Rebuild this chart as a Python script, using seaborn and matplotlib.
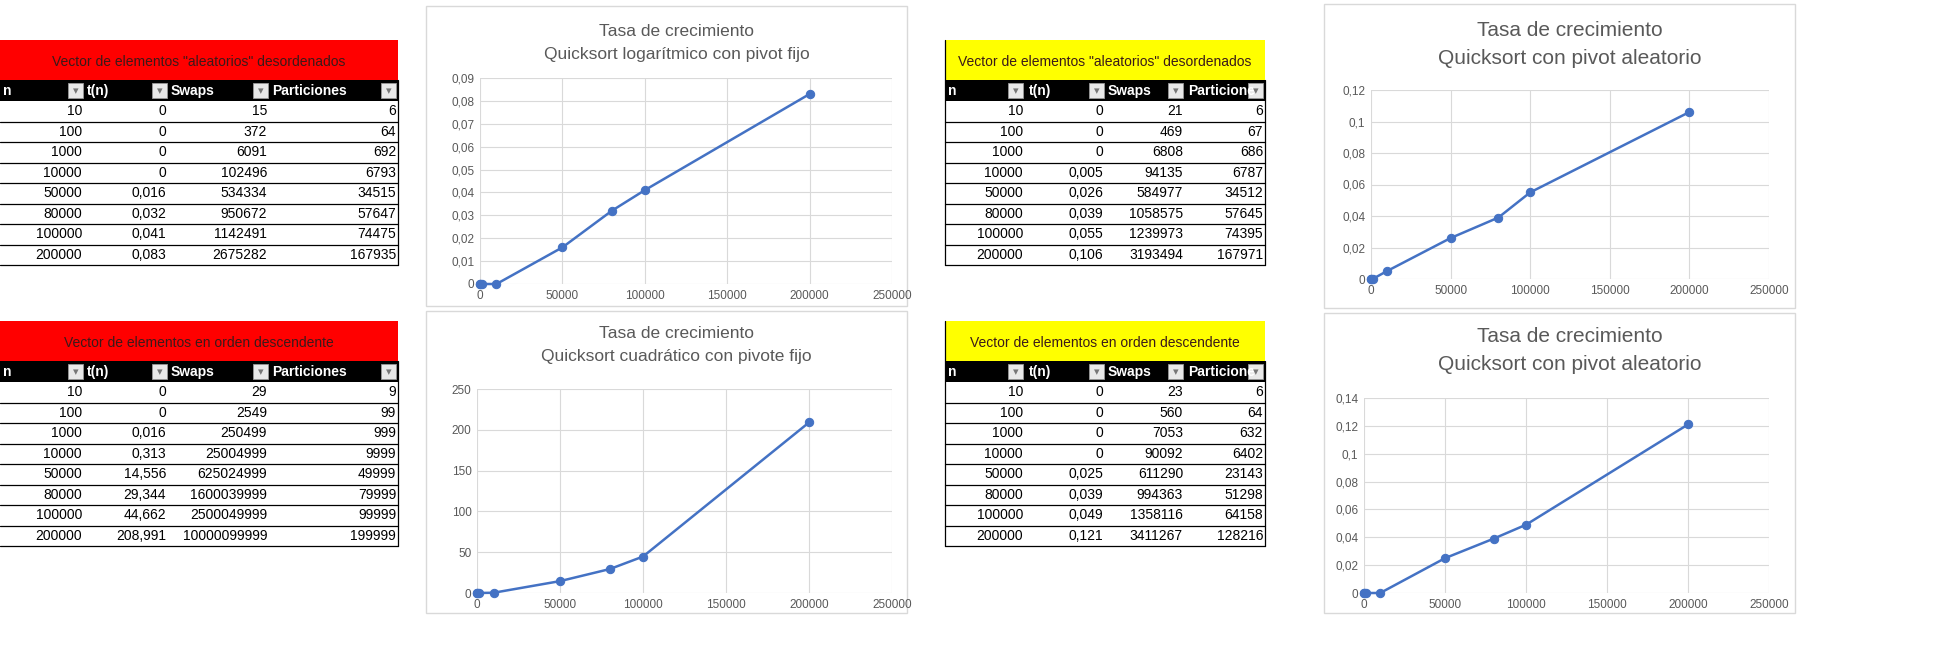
import matplotlib
matplotlib.use("Agg")
import matplotlib.pyplot as plt
import seaborn as sns
import pandas as pd
from matplotlib.patches import Rectangle
from matplotlib.ticker import FuncFormatter

sns.set_theme(style="whitegrid")
plt.rcParams['font.family'] = ['Liberation Sans', 'DejaVu Sans']

n_vals = [10, 100, 1000, 10000, 50000, 80000, 100000, 200000]

t1 = [0, 0, 0, 0, 0.016, 0.032, 0.041, 0.083]
sw1 = [15, 372, 6091, 102496, 534334, 950672, 1142491, 2675282]
pa1 = [6, 64, 692, 6793, 34515, 57647, 74475, 167935]
t1_lbl = ["0", "0", "0", "0", "0,016", "0,032", "0,041", "0,083"]

t2 = [0, 0, 0.016, 0.313, 14.556, 29.344, 44.662, 208.991]
sw2 = [29, 2549, 250499, 25004999, 625024999, 1600039999, 2500049999, 10000099999]
pa2 = [9, 99, 999, 9999, 49999, 79999, 99999, 199999]
t2_lbl = ["0", "0", "0,016", "0,313", "14,556", "29,344", "44,662", "208,991"]

t3 = [0, 0, 0, 0.005, 0.026, 0.039, 0.055, 0.106]
sw3 = [21, 469, 6808, 94135, 584977, 1058575, 1239973, 3193494]
pa3 = [6, 67, 686, 6787, 34512, 57645, 74395, 167971]
t3_lbl = ["0", "0", "0", "0,005", "0,026", "0,039", "0,055", "0,106"]

t4 = [0, 0, 0, 0, 0.025, 0.039, 0.049, 0.121]
sw4 = [23, 560, 7053, 90092, 611290, 994363, 1358116, 3411267]
pa4 = [6, 64, 632, 6402, 23143, 51298, 64158, 128216]
t4_lbl = ["0", "0", "0", "0", "0,025", "0,039", "0,049", "0,121"]

W, H = 1944, 646
fig = plt.figure(figsize=(W / 100, H / 100), dpi=100)
fig.patch.set_facecolor("white")
bg = fig.add_axes([0, 0, 1, 1])
bg.set_xlim(0, W); bg.set_ylim(H, 0); bg.axis("off")

def table(x0, x1, y0, title, band, tl, sw, pa, cols, boxes, heads, last_head):
    bg.add_patch(Rectangle((x0, y0), x1 - x0, 40, color=band, lw=0))
    bg.text((x0 + x1) / 2, y0 + 22, title, ha="center", va="center", fontsize=10, color="#3a1a1a")
    hy = y0 + 40
    bg.add_patch(Rectangle((x0, hy), x1 - x0, 21, color="black", lw=0))
    bg.text(x0 + 3, hy + 11, "n", color="white", fontsize=10, weight="bold", va="center")
    for bx, hx, h in zip(boxes, heads, ["t(n)", "Swaps", last_head]):
        bg.add_patch(Rectangle((bx, hy + 3), 15, 15, facecolor="#e8e8e8", edgecolor="#999", lw=0.6))
        bg.text(bx + 7.5, hy + 11, "▾", ha="center", va="center", fontsize=8, color="#777")
        bg.text(hx, hy + 11, h, color="white", fontsize=10, weight="bold", va="center")
    bx = x1 - 17
    bg.add_patch(Rectangle((bx, hy + 3), 15, 15, facecolor="#e8e8e8", edgecolor="#999", lw=0.6))
    bg.text(bx + 7.5, hy + 11, "▾", ha="center", va="center", fontsize=8, color="#777")
    ry = hy + 21
    rh = 20.5
    for i in range(8):
        yc = ry + rh * i + rh / 2
        for cx, v in zip(cols, [str(n_vals[i]), tl[i], str(sw[i]), str(pa[i])]):
            bg.text(cx, yc, v, ha="right", va="center", fontsize=10, color="black")
        bg.plot([x0, x1], [ry + rh * (i + 1)] * 2, color="black", lw=0.9)
    bg.plot([x1, x1], [hy, ry + rh * 8], color="black", lw=0.9)
    if x0 > 10:
        bg.plot([x0, x0], [y0, ry + rh * 8], color="black", lw=0.9)

table(0, 398, 40, 'Vector de elementos "aleatorios" desordenados', "#ff0000", t1_lbl, sw1, pa1,
      [82, 166, 267, 396], [68, 152, 253], [87, 171, 272], "Particiones")
table(0, 398, 321, 'Vector de elementos en orden descendente', "#ff0000", t2_lbl, sw2, pa2,
      [82, 166, 267, 396], [68, 152, 253], [87, 171, 272], "Particiones")
table(945, 1265, 40, 'Vector de elementos "aleatorios" desordenados', "#ffff00", t3_lbl, sw3, pa3,
      [1023, 1103, 1183, 1263], [1008, 1089, 1168], [1029, 1108, 1188], "Particione")
table(945, 1265, 321, 'Vector de elementos en orden descendente', "#ffff00", t4_lbl, sw4, pa4,
      [1023, 1103, 1183, 1263], [1008, 1089, 1168], [1029, 1108, 1188], "Particione")

def comma(v, p):
    s = ("%g" % round(v, 4)).replace(".", ",")
    return s

def chart(box, plot, t, ymax, ystep, title, tsize, tys):
    bx0, by0, bx1, by1 = box
    bg.add_patch(Rectangle((bx0, by0), bx1 - bx0, by1 - by0, facecolor="white", edgecolor="#d9d9d9", lw=1))
    for line, ty in zip(title.split("\n"), tys):
        bg.text((bx0 + bx1) / 2 + 10, ty, line, ha="center", va="center", fontsize=tsize, color="#595959")
    px0, py0, px1, py1 = plot
    ax = fig.add_axes([px0 / W, 1 - py1 / H, (px1 - px0) / W, (py1 - py0) / H])
    df = pd.DataFrame({"n": n_vals, "t": t})
    sns.lineplot(data=df, x="n", y="t", ax=ax, color="#4472c4", marker="o", markersize=6,
                 markeredgecolor="#4472c4", lw=1.8)
    ax.set_xlim(0, 250000); ax.set_ylim(0, ymax)
    ax.set_xticks(range(0, 250001, 50000))
    yt = [i * ystep for i in range(int(round(ymax / ystep)) + 1)]
    ax.set_yticks(yt)
    ax.yaxis.set_major_formatter(FuncFormatter(comma))
    ax.grid(True, color="#d9d9d9", lw=0.8)
    for s in ax.spines.values():
        s.set_visible(False)
    ax.set_facecolor("white")
    ax.set_xlabel(""); ax.set_ylabel("")
    ax.tick_params(labelsize=8.5, colors="#595959", length=0, pad=4)
    ax.patch.set_alpha(0)
    for l in ax.get_xticklabels() + ax.get_yticklabels():
        l.set_color("#595959")
    for s in ax.lines:
        s.set_clip_on(False)

chart((426, 6, 907, 306), (480, 78, 892, 284), t1, 0.09, 0.01,
      "Tasa de crecimiento\nQuicksort logarítmico con pivot fijo", 12.5, (32, 55))
chart((426, 311, 907, 613), (477, 389, 892, 593), t2, 250, 50,
      "Tasa de crecimiento\nQuicksort cuadrático con pivote fijo", 12.5, (333, 356))
chart((1324, 4, 1795, 308), (1371, 90, 1769, 279), t3, 0.12, 0.02,
      "Tasa de crecimiento\nQuicksort con pivot aleatorio", 15, (30, 58))
chart((1324, 313, 1795, 613), (1364, 398, 1769, 593), t4, 0.14, 0.02,
      "Tasa de crecimiento\nQuicksort con pivot aleatorio", 15, (336, 365))

fig.savefig("out.png", dpi=100, facecolor="white")
